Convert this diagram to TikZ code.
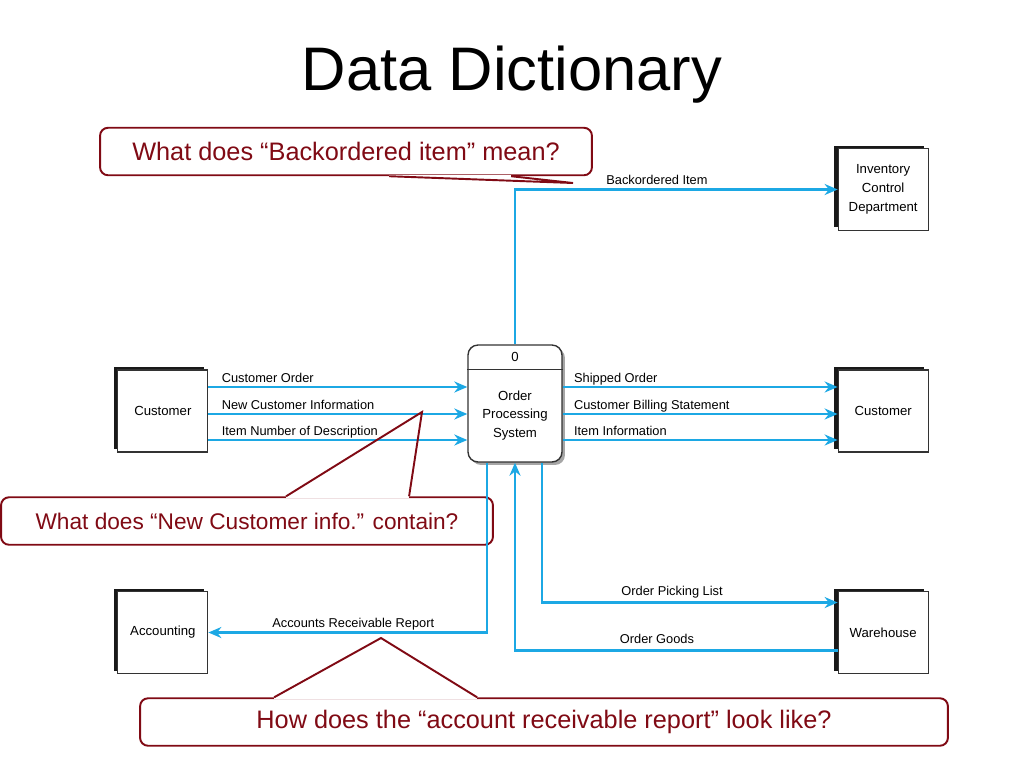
\documentclass[tikz,border=0pt]{standalone}
\usepackage{fontspec}
\setmainfont{Liberation Sans}
\usetikzlibrary{arrows.meta,positioning,calc,shadows}
\definecolor{flowblue}{RGB}{28,168,228}
\definecolor{noteRed}{RGB}{128,10,20}

\begin{document}
\begin{tikzpicture}[x=0.02cm,y=-0.02cm,>=Stealth,
  ent/.style={draw=black!80,line width=0.6pt,fill=white,minimum width=1.8cm,minimum height=1.64cm,align=center,font=\fontsize{7.5}{10.8}\selectfont,general shadow={fill=black!90,shadow xshift=-0.08cm,shadow yshift=0.06cm}},
  proc/.style={draw=black!80,line width=0.8pt,fill=white,rounded corners=0.2cm,minimum width=1.88cm,minimum height=2.34cm,drop shadow={fill=black!35,opacity=1,shadow xshift=0.06cm,shadow yshift=-0.06cm}},
  txt/.style={align=center,font=\fontsize{7.5}{10.6}\selectfont},
  flow/.style={draw=flowblue,line width=1.6pt,-{Stealth[length=2.6mm,width=2.2mm]}},
  lbl/.style={font=\fontsize{7.3}{8.5}\selectfont,inner sep=0pt,yshift=0.1cm},
  note/.style={draw=noteRed,line width=1.1pt,rounded corners=0.16cm,minimum width=9.84cm,minimum height=0.95cm,text=noteRed,font=\fontsize{14.4}{16}\selectfont},
  ptr/.style={draw=noteRed,line width=1.1pt}]
\useasboundingbox (0,0) rectangle (1024,768);
\node[font=\fontsize{35}{40}\selectfont,anchor=base] (title) at (512,90) {Data Dictionary};

% questions
\node[note] (q1) at (346,151.5) {What does “Backordered item” mean?};
\node[note,font=\fontsize{12.9}{15}\selectfont] (q2) at (247,521) {What does “New Customer info.” contain?};
\node[note,minimum width=16.16cm] (q3) at (544,722) {How does the “account receivable report” look like?};
\coordinate (q1a) at ($(q1.south west)+(290,0)$);
\coordinate (q1b) at ($(q1.south west)+(412,0)$);
\coordinate (q2a) at ($(q2.north west)+(286,0)$);
\coordinate (q2b) at ($(q2.north west)+(409,0)$);
\coordinate (q3a) at ($(q3.north west)+(135,0)$);
\coordinate (q3b) at ($(q3.north west)+(338,0)$);
\coordinate (t1) at (573,183);
\coordinate (t2) at (422,412);
\coordinate (t3) at (381,638);
\draw[white,line width=1.8pt] (q1a) -- (q1b);
\draw[white,line width=1.8pt] (q2a) -- (q2b);
\draw[white,line width=1.8pt] (q3a) -- (q3b);

% process and entities
\node[proc] (proc) at (515,403.5) {};
\draw[black!80,line width=0.8pt] ($(proc.north west)+(0,25)$) -- ($(proc.north east)+(0,25)$);
\node[txt] (pnum) at ($(proc.north)+(0,13)$) {0};
\node[txt] (pname) at ($(proc.center)+(0,12)$) {Order\\Processing\\System};
\node[ent,left=5.18cm of proc,yshift=-0.15cm] (custL) {Customer};
\node[ent,right=5.5cm of proc,yshift=-0.15cm] (custR) {Customer};
\node[ent,above=2.77cm of custR] (invC) {Inventory\\Control\\Department};
\node[ent,below=2.77cm of custR] (whse) {Warehouse};
\node[ent,below=2.77cm of custL] (acct) {Accounting};

% data flows
\coordinate (r1) at (0,387);
\coordinate (r2) at (0,414);
\coordinate (r3) at (0,440);
\draw[flow] (custL.east |- r1) -- node[lbl,pos=0,anchor=base west,xshift=0.24cm] {Customer Order} (proc.west |- r1);
\draw[flow] (custL.east |- r2) -- node[lbl,pos=0,anchor=base west,xshift=0.24cm] {New Customer Information} (proc.west |- r2);
\draw[flow] (custL.east |- r3) -- node[lbl,pos=0,anchor=base west,xshift=0.24cm] {Item Number of Description} (proc.west |- r3);
\draw[flow] (proc.east |- r1) -- node[lbl,pos=0,anchor=base west,xshift=0.2cm] {Shipped Order} (custR.west |- r1);
\draw[flow] (proc.east |- r2) -- node[lbl,pos=0,anchor=base west,xshift=0.2cm] {Customer Billing Statement} (custR.west |- r2);
\draw[flow] (proc.east |- r3) -- node[lbl,pos=0,anchor=base west,xshift=0.2cm] {Item Information} (custR.west |- r3);
\draw[flow] (proc.north) |- node[lbl,pos=0.72,anchor=base] {Backordered Item} (invC.west);
\draw[flow] ($(proc.south)+(-28,0)$) |- node[lbl,pos=0.74,anchor=base] {Accounts Receivable Report} (acct.east);
\draw[flow] ($(proc.south)+(27,0)$) |- node[lbl,pos=0.72,anchor=base,yshift=0.05cm] {Order Picking List} ($(whse.west)+(0,-30)$);
\draw[flow] ($(whse.west)+(0,18)$) -| node[lbl,pos=0.28,anchor=base,yshift=0.05cm] {Order Goods} (proc.south);

% pointers
\draw[ptr] (q1a) -- (t1) -- (q1b);
\draw[ptr] (q2a) -- (t2) -- (q2b);
\draw[ptr] (q3a) -- (t3) -- (q3b);
\end{tikzpicture}
\end{document}
